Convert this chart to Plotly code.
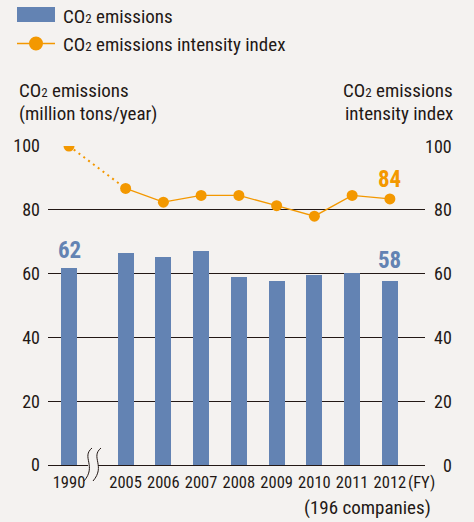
import plotly.graph_objects as go

# ---- data ----
years = ["1990", "2005", "2006", "2007", "2008", "2009", "2010", "2011", "2012"]
emissions = [61.7, 66.6, 65.3, 67.0, 58.8, 57.8, 59.5, 60.1, 57.6]   # million tons/year
intensity = [100, 86.7, 82.4, 84.5, 84.5, 81.3, 78.0, 84.5, 83.4]   # index
tick_vals = [0, 20, 40, 60, 80, 100]
label_first_bar = "62"
label_last_bar = "58"
label_last_point = "84"

# axis break between 1990 and 2005: shift later years by half a slot
xpos = [i + (0.5 if i > 0 else 0) for i in range(len(years))]

BG = "#f4f2f0"
BLUE = "#6383b3"
ORANGE = "#f39800"
INK = "#231815"
FONT = "Roboto Condensed, Liberation Sans Narrow, DejaVu Sans Condensed, sans-serif"
FS_TICK = 18
FS_XTICK = 16.5
FS_TXT = 19
CO2 = "CO<span style='font-size:13px'>2</span>"

W, H = 474, 522
L, R, T, B = 48, 49, 146, 57
PW, PH = W - L - R, H - T - B


def px(x):
    return (x - L) / PW


def py(y):
    return (H - B - y) / PH


fig = go.Figure()
fig.add_trace(go.Bar(x=xpos, y=emissions, width=0.42, marker_color=BLUE,
                     marker_line_width=0, showlegend=False, yaxis="y"))
# dotted segment 1990 -> 2005
fig.add_trace(go.Scatter(x=xpos[:2], y=intensity[:2], mode="lines",
                         line=dict(color=ORANGE, width=2, dash="2px,4px"),
                         showlegend=False, yaxis="y2"))
# solid segment 2005 -> 2012
fig.add_trace(go.Scatter(x=xpos[1:], y=intensity[1:], mode="lines",
                         line=dict(color=ORANGE, width=1.3),
                         showlegend=False, yaxis="y2"))
fig.add_trace(go.Scatter(x=xpos, y=intensity, mode="markers",
                         marker=dict(color=ORANGE, size=11),
                         showlegend=False, yaxis="y2"))

ann = []
bold_lbl = dict(size=23, family=FONT, weight="bold")
ann.append(dict(x=xpos[0], y=emissions[0], text=label_first_bar, showarrow=False,
                yanchor="bottom", yshift=2, font=dict(color=BLUE, **bold_lbl)))
ann.append(dict(x=xpos[-1], y=emissions[-1], text=label_last_bar, showarrow=False,
                yanchor="bottom", yshift=5, font=dict(color=BLUE, **bold_lbl)))
ann.append(dict(x=xpos[-1], y=intensity[-1], yref="y2", text=label_last_point, showarrow=False,
                yanchor="bottom", yshift=4, font=dict(color=ORANGE, **bold_lbl)))

tick_font = dict(size=FS_TICK, color=INK, family=FONT)
xtick_font = dict(size=FS_XTICK, color=INK, family=FONT)
txt = dict(size=FS_TXT, color=INK, family=FONT)

# right-axis tick labels (right-aligned as in the original)
for v in tick_vals:
    ann.append(dict(xref="paper", yref="y2", x=px(454), y=v, text=str(v),
                    xanchor="right", yanchor="middle", showarrow=False, font=tick_font))

# axis titles
ann.append(dict(xref="paper", yref="paper", x=px(17), y=py(90), text=CO2 + " emissions",
                xanchor="left", yanchor="middle", showarrow=False, font=txt))
ann.append(dict(xref="paper", yref="paper", x=px(17), y=py(114), text="(million tons/year)",
                xanchor="left", yanchor="middle", showarrow=False, font=txt))
ann.append(dict(xref="paper", yref="paper", x=px(455), y=py(90), text=CO2 + " emissions",
                xanchor="right", yanchor="middle", showarrow=False, font=txt))
ann.append(dict(xref="paper", yref="paper", x=px(455), y=py(114), text="intensity index",
                xanchor="right", yanchor="middle", showarrow=False, font=txt))
# FY and companies notes
ann.append(dict(xref="paper", yref="paper", x=px(406), y=py(482), text="(FY)",
                xanchor="left", yanchor="middle", showarrow=False, font=xtick_font))
ann.append(dict(xref="paper", yref="paper", x=px(433), y=py(507), text="(196 companies)",
                xanchor="right", yanchor="middle", showarrow=False, font=txt))
# legend texts
ann.append(dict(xref="paper", yref="paper", x=px(61), y=py(16), text=CO2 + " emissions",
                xanchor="left", yanchor="middle", showarrow=False, font=txt))
ann.append(dict(xref="paper", yref="paper", x=px(61), y=py(44), text=CO2 + " emissions intensity index",
                xanchor="left", yanchor="middle", showarrow=False, font=txt))

shapes = []
# legend swatches
shapes.append(dict(type="rect", xref="paper", yref="paper", x0=px(17), x1=px(55), y0=py(7), y1=py(22),
                   fillcolor=BLUE, line_width=0, layer="above"))
shapes.append(dict(type="line", xref="paper", yref="paper", x0=px(17), x1=px(55), y0=py(43.5), y1=py(43.5),
                   line=dict(color=ORANGE, width=1.3), layer="above"))
shapes.append(dict(type="circle", xref="paper", yref="paper", x0=px(29), x1=px(43), y0=py(36.5), y1=py(50.5),
                   fillcolor=ORANGE, line_width=0, layer="above"))


def wave(dx):
    pts = [(92 + dx, 448), (81 + dx, 457), (97 + dx, 466), (84 + dx, 481)]
    p = [(px(a), py(b)) for a, b in pts]
    return "M {} {} C {} {} {} {} {} {}".format(p[0][0], p[0][1], p[1][0], p[1][1],
                                                p[2][0], p[2][1], p[3][0], p[3][1])


# gap in the zero line for the axis break
shapes.append(dict(type="rect", xref="paper", yref="paper", x0=px(88), x1=px(98), y0=py(462), y1=py(469),
                   fillcolor=BG, line_width=0, layer="above"))
shapes.append(dict(type="path", xref="paper", yref="paper", path=wave(0),
                   line=dict(color=INK, width=1), layer="above"))
shapes.append(dict(type="path", xref="paper", yref="paper", path=wave(9),
                   line=dict(color=INK, width=1), layer="above"))

axis_common = dict(range=[0, 100], tickvals=tick_vals, tickfont=tick_font, fixedrange=True)
fig.update_layout(
    width=W, height=H,
    margin=dict(l=L, r=R, t=T, b=B, pad=0),
    paper_bgcolor=BG, plot_bgcolor=BG,
    font=dict(family=FONT, color=INK),
    showlegend=False,
    bargap=0,
    xaxis=dict(range=[-21 / 37.75, 9.43], tickvals=xpos, ticktext=years,
               tickfont=xtick_font, showgrid=False, zeroline=False, showline=False,
               ticks="", ticklabelstandoff=5),
    yaxis=dict(**axis_common, showgrid=True, gridcolor=INK, gridwidth=1,
               zeroline=True, zerolinecolor=INK, zerolinewidth=1.3,
               showline=False, ticks="", ticklabelstandoff=7),
    yaxis2=dict(**axis_common, overlaying="y", side="right", showgrid=False,
                zeroline=False, showline=False, ticks="", showticklabels=False),
    annotations=ann,
    shapes=shapes,
)

fig.write_html("out.html")
